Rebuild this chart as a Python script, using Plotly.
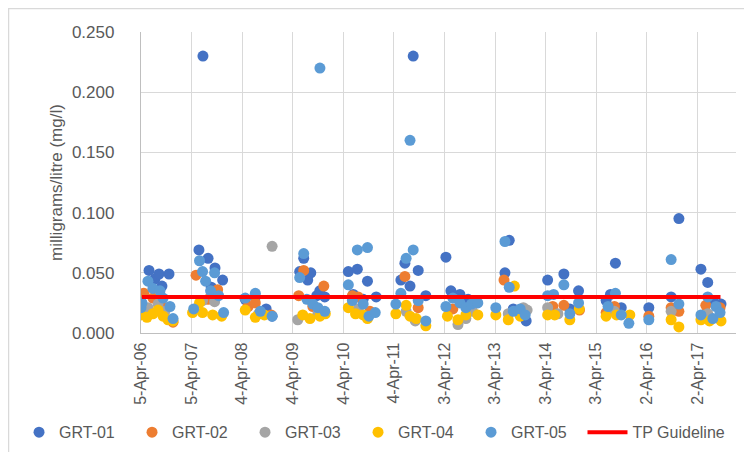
import plotly.graph_objects as go

# ---------------- data ----------------
tick_dates = ["2006-04-05", "2007-04-05", "2008-04-04", "2009-04-04", "2010-04-04", "2011-04-04",
              "2012-04-03", "2013-04-03", "2014-04-03", "2015-04-03", "2016-04-02", "2017-04-02"]
tick_labels = ["5-Apr-06", "5-Apr-07", "4-Apr-08", "4-Apr-09", "4-Apr-10", "4-Apr-11",
               "3-Apr-12", "3-Apr-13", "3-Apr-14", "3-Apr-15", "2-Apr-16", "2-Apr-17"]

grt01_dates = ["2006-04-19", "2006-06-02", "2006-07-15", "2006-08-13", "2006-09-03", "2006-10-24",
               "2007-05-28", "2007-06-26", "2007-08-02", "2007-08-25", "2007-09-21", "2007-11-15",
               "2008-04-26", "2008-07-08", "2008-09-24", "2008-11-06",
               "2009-05-24", "2009-06-22", "2009-07-21", "2009-08-12", "2009-09-24", "2009-10-16", "2009-11-21",
               "2010-05-10", "2010-06-15", "2010-07-14", "2010-08-25", "2010-09-25", "2010-11-27",
               "2011-05-24", "2011-06-22", "2011-07-29", "2011-08-21", "2011-09-26", "2011-11-20",
               "2012-04-13", "2012-05-19", "2012-06-10", "2012-07-23", "2012-09-20",
               "2013-06-13", "2013-07-14", "2013-08-12", "2013-11-13",
               "2014-04-17", "2014-08-12", "2014-09-24", "2014-11-26",
               "2015-06-13", "2015-07-14", "2015-08-19", "2015-09-30",
               "2016-04-16", "2016-09-24", "2016-11-19",
               "2017-04-27", "2017-06-15", "2017-07-31", "2017-09-19"]
grt01_vals = [0.032, 0.052, 0.045, 0.049, 0.039, 0.049,
              0.069, 0.230, 0.062, 0.038, 0.054, 0.044,
              0.028, 0.030, 0.020, 0.014,
              0.051, 0.062, 0.044, 0.050, 0.031, 0.035, 0.030,
              0.051, 0.032, 0.053, 0.028, 0.043, 0.030,
              0.044, 0.058, 0.039, 0.230, 0.052, 0.031,
              0.063, 0.035, 0.030, 0.032, 0.028,
              0.050, 0.077, 0.020, 0.010,
              0.044, 0.049, 0.020, 0.035,
              0.027, 0.032, 0.058, 0.021,
              0.021, 0.030, 0.095,
              0.053, 0.042, 0.025, 0.024]

grt02_dates = ["2006-04-26", "2006-06-30", "2006-09-25", "2006-11-22",
               "2007-05-07", "2007-08-02", "2007-10-10",
               "2008-05-17", "2008-07-08", "2008-10-30",
               "2009-05-17", "2009-06-22", "2009-08-27", "2009-11-14",
               "2010-06-08", "2010-07-20", "2010-10-13",
               "2011-06-22", "2011-09-26",
               "2012-06-02", "2012-11-15",
               "2013-06-06", "2013-10-24",
               "2014-05-24", "2014-08-12", "2014-12-03",
               "2015-06-13", "2015-08-12",
               "2016-04-16", "2016-09-24", "2016-11-19",
               "2017-06-01", "2017-09-12"]
grt02_vals = [0.033, 0.029, 0.021, 0.009,
              0.048, 0.028, 0.036,
              0.022, 0.025, 0.015,
              0.031, 0.052, 0.022, 0.039,
              0.031, 0.030, 0.018,
              0.047, 0.021,
              0.020, 0.027,
              0.044, 0.018,
              0.022, 0.023, 0.019,
              0.017, 0.022,
              0.014, 0.021, 0.018,
              0.023, 0.021]

grt03_dates = ["2006-05-25", "2006-08-06", "2006-09-25",
               "2007-06-23", "2007-09-18",
               "2008-08-01", "2008-11-06",
               "2009-05-10", "2009-10-02",
               "2010-07-20",
               "2011-07-01", "2011-09-05",
               "2012-07-09", "2012-09-04", "2012-10-22",
               "2013-07-07", "2013-10-24", "2013-11-20",
               "2014-04-17", "2014-06-30",
               "2015-08-12",
               "2016-09-24",
               "2017-06-15"]
grt03_vals = [0.021, 0.024, 0.018,
              0.027, 0.026,
              0.016, 0.072,
              0.011, 0.016,
              0.020,
              0.018, 0.010,
              0.007, 0.012, 0.018,
              0.016, 0.021, 0.019,
              0.021, 0.016,
              0.018,
              0.018,
              0.016]

grt04_dates = ["2006-04-05", "2006-05-18", "2006-06-30", "2006-08-06", "2006-09-11", "2006-10-17", "2006-11-22",
               "2007-04-12", "2007-06-01", "2007-06-23", "2007-09-04", "2007-11-08",
               "2008-04-26", "2008-07-08", "2008-09-11",
               "2009-06-15", "2009-08-06", "2009-10-17", "2009-11-25",
               "2010-05-10", "2010-07-01", "2010-08-25", "2010-09-25",
               "2011-04-18", "2011-07-01", "2011-07-29", "2011-09-12", "2011-11-20",
               "2012-04-24", "2012-07-09", "2012-09-04", "2012-11-29",
               "2013-04-08", "2013-07-07", "2013-08-20", "2013-10-01",
               "2014-04-17", "2014-06-07", "2014-09-24", "2014-12-01",
               "2015-06-13", "2015-08-27", "2015-12-01",
               "2016-09-24", "2016-11-19",
               "2017-04-27", "2017-06-28", "2017-09-19"]
grt04_vals = [0.015, 0.013, 0.016, 0.019, 0.014, 0.011, 0.010,
              0.017, 0.025, 0.017, 0.015, 0.014,
              0.019, 0.013, 0.015,
              0.015, 0.012, 0.014, 0.016,
              0.021, 0.016, 0.015, 0.012,
              0.016, 0.023, 0.014, 0.012, 0.006,
              0.014, 0.011, 0.015, 0.015,
              0.015, 0.011, 0.039, 0.014,
              0.015, 0.015, 0.011, 0.020,
              0.014, 0.015, 0.015,
              0.011, 0.005,
              0.011, 0.010, 0.010]

grt05_dates = ["2006-04-05", "2006-04-12", "2006-05-25", "2006-06-30", "2006-08-20", "2006-09-11", "2006-10-31", "2006-11-22",
               "2007-04-20", "2007-06-01", "2007-06-23", "2007-07-15", "2007-08-20", "2007-09-18", "2007-10-17", "2007-11-22",
               "2008-04-26", "2008-07-08", "2008-08-13", "2008-11-06",
               "2009-05-24", "2009-06-22", "2009-07-15", "2009-08-27", "2009-10-02", "2009-10-17", "2009-11-21",
               "2010-05-10", "2010-06-08", "2010-07-14", "2010-08-25", "2010-09-25", "2010-10-06", "2010-11-20",
               "2011-04-18", "2011-05-24", "2011-07-01", "2011-07-29", "2011-08-21", "2011-09-26", "2011-11-20",
               "2012-04-13", "2012-06-02", "2012-07-23", "2012-09-04", "2012-10-15", "2012-11-29",
               "2013-04-08", "2013-06-13", "2013-07-14", "2013-08-12", "2013-10-01", "2013-11-06",
               "2014-04-17", "2014-05-30", "2014-08-12", "2014-09-24", "2014-11-26",
               "2015-06-27", "2015-08-19", "2015-09-30", "2015-11-24",
               "2016-04-16", "2016-09-24", "2016-11-19",
               "2017-04-27", "2017-06-15", "2017-07-22", "2017-08-14", "2017-09-12"]
grt05_vals = [0.021, 0.025, 0.043, 0.037, 0.035, 0.029, 0.022, 0.012,
              0.020, 0.060, 0.051, 0.043, 0.035, 0.050, 0.031, 0.017,
              0.029, 0.033, 0.018, 0.014,
              0.046, 0.066, 0.028, 0.024, 0.021, 0.220, 0.018,
              0.040, 0.027, 0.069, 0.024, 0.071, 0.014, 0.017,
              0.024, 0.033, 0.062, 0.160, 0.069, 0.027, 0.010,
              0.022, 0.029, 0.025, 0.021, 0.024, 0.025,
              0.021, 0.076, 0.038, 0.018, 0.020, 0.015,
              0.031, 0.032, 0.040, 0.016, 0.025,
              0.022, 0.033, 0.015, 0.008,
              0.011, 0.061, 0.024,
              0.015, 0.030, 0.012, 0.022, 0.017]

guideline_dates = ["2006-04-12", "2017-09-15"]
guideline_vals = [0.03, 0.03]

# ---------------- figure ----------------
W, H = 752, 452
ML, MR, MT, MB = 133, 24, 24, 127

series = [
    ("GRT-01", grt01_dates, grt01_vals, "#4472C4"),
    ("GRT-02", grt02_dates, grt02_vals, "#ED7D31"),
    ("GRT-03", grt03_dates, grt03_vals, "#A5A5A5"),
    ("GRT-04", grt04_dates, grt04_vals, "#FFC000"),
    ("GRT-05", grt05_dates, grt05_vals, "#5B9BD5"),
]

fig = go.Figure()
for name, d, v, c in series:
    fig.add_trace(go.Scatter(x=d, y=v, mode="markers", name=name,
                             marker=dict(size=11, color=c, line=dict(width=0))))
fig.add_trace(go.Scatter(x=guideline_dates, y=guideline_vals, mode="lines", name="TP Guideline",
                         line=dict(color="#FF0000", width=4), legend="legend2"))

font_family = "Liberation Sans, Arial, sans-serif"
legend_font = dict(size=16, color="#595959")
fig.update_layout(
    width=W, height=H,
    margin=dict(l=ML, r=MR, t=MT, b=MB, autoexpand=False),
    paper_bgcolor="white", plot_bgcolor="white",
    font=dict(family=font_family, color="#595959", size=15),
    showlegend=True,
    legend=dict(orientation="h", x=-0.205, xanchor="left", y=-0.33, yanchor="middle",
                font=legend_font, itemwidth=30,
                entrywidth=68, entrywidthmode="pixels",
                bgcolor="rgba(0,0,0,0)"),
    legend2=dict(orientation="h", x=0.742, xanchor="left", y=-0.33, yanchor="middle",
                 font=legend_font, itemwidth=40,
                 bgcolor="rgba(0,0,0,0)"),
    xaxis=dict(type="date", range=["2006-04-05", "2018-01-05"],
               tickvals=tick_dates, ticktext=tick_labels, tickangle=-90,
               tickfont=dict(size=16, color="#595959"),
               showgrid=True, gridcolor="#D9D9D9", gridwidth=1.3,
               showline=True, linecolor="#BFBFBF", linewidth=1.3,
               ticks="", ticklabelstandoff=2, zeroline=False, automargin=False),
    yaxis=dict(range=[0, 0.25], dtick=0.05, tickformat=".3f",
               tickfont=dict(size=17, color="#595959"),
               showgrid=True, gridcolor="#D9D9D9", gridwidth=1.3,
               showline=True, linecolor="#BFBFBF", linewidth=1.3,
               ticks="", ticklabelstandoff=22, zeroline=False, automargin=False,
               title=dict(text="milligrams/litre (mg/l)", font=dict(size=17, color="#595959"), standoff=4)),
)

# chart-area border like the spreadsheet chart frame
pw = W - ML - MR
ph = H - MT - MB
fig.add_shape(type="rect", xref="paper", yref="paper",
              x0=(0.5 - ML) / pw, x1=(W - 1.5 - ML) / pw,
              y0=-(MB - 1.5) / ph, y1=1 + (MT - 0.5) / ph,
              line=dict(color="#D9D9D9", width=1.5), layer="below")

fig.write_html("out.html")
